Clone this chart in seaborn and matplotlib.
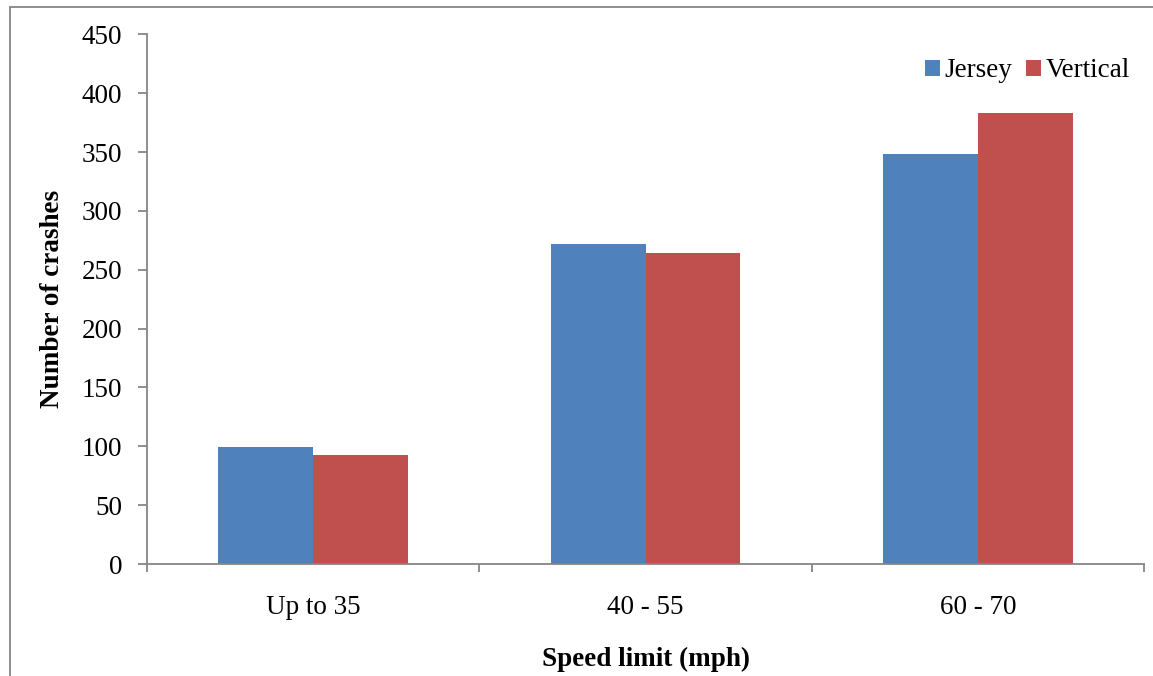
import matplotlib
matplotlib.use("Agg")
import matplotlib.pyplot as plt
from matplotlib.lines import Line2D
from matplotlib.ticker import FixedLocator
import seaborn as sns
import pandas as pd

categories = ["Up to 35", "40 - 55", "60 - 70"]
jersey = [99, 272, 348]
vertical = [93, 264, 383]
series_names = ["Jersey", "Vertical"]
y_ticks = [0, 50, 100, 150, 200, 250, 300, 350, 400, 450]

df = pd.DataFrame({
    "category": categories * 2,
    "value": jersey + vertical,
    "series": [series_names[0]] * 3 + [series_names[1]] * 3,
})

sns.set_theme(style="white")
plt.rcParams["font.family"] = ["Liberation Serif", "DejaVu Serif"]
plt.rcParams["text.color"] = "black"
plt.rcParams["axes.labelcolor"] = "black"

FS = 19.5

fig = plt.figure(figsize=(11.53, 6.76), dpi=100)
ax = fig.add_axes([147 / 1153, 1 - 564 / 676, (1144 - 147) / 1153, (564 - 34.3) / 676])

sns.barplot(data=df, x="category", y="value", hue="series", order=categories,
            hue_order=series_names, palette=["#4F81BD", "#C0504D"],
            width=0.571, saturation=1, ax=ax, linewidth=0)

ax.set_xlim(-0.5, 2.5)
ax.set_ylim(0, 450)
ax.set_yticks(y_ticks)
ax.set_yticklabels([str(v) for v in y_ticks], fontsize=FS)
ax.set_xticks(range(3))
ax.set_xticklabels(categories, fontsize=FS)
ax.xaxis.set_minor_locator(FixedLocator([-0.5, 0.5, 1.5, 2.5]))

spine_color = "#868686"
for s in ["top", "right"]:
    ax.spines[s].set_visible(False)
for s in ["left", "bottom"]:
    ax.spines[s].set_color(spine_color)
    ax.spines[s].set_linewidth(1.3)

ax.tick_params(axis="y", which="major", direction="out", length=6.5, width=1.3,
               color=spine_color, left=True, pad=11.5, labelcolor="black")
ax.tick_params(axis="x", which="major", length=0, pad=22, labelcolor="black")
ax.tick_params(axis="x", which="minor", direction="out", length=5.5, width=1.3,
               color=spine_color, bottom=True)

ax.set_xlabel("Speed limit (mph)", fontsize=FS, fontweight="bold", labelpad=20,
              color="black")
ax.set_ylabel("Number of crashes", fontsize=FS, fontweight="bold", labelpad=12,
              color="black")

leg = ax.legend(title=None, loc="upper right", bbox_to_anchor=(0.997, 0.975), ncol=2,
                frameon=False, fontsize=FS, handlelength=0.55, handleheight=0.55,
                handletextpad=0.18, columnspacing=0.5, borderaxespad=0)
for t in leg.get_texts():
    t.set_color("black")

# outer chart frame (left and top edges visible)
fig.add_artist(Line2D([10 / 1153, 10 / 1153], [0, 1 - 7 / 676],
                      transform=fig.transFigure, color=spine_color, lw=1.3))
fig.add_artist(Line2D([10 / 1153, 1], [1 - 7 / 676, 1 - 7 / 676],
                      transform=fig.transFigure, color=spine_color, lw=1.3))

fig.savefig("out.png", dpi=100)
